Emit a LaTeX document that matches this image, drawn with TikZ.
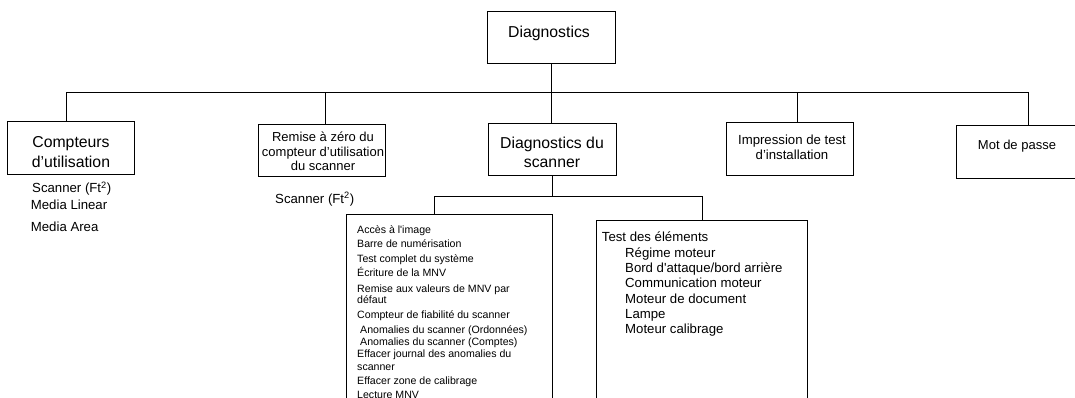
\documentclass[tikz,border=0pt]{standalone}
\usepackage{fontspec}
\newfontfamily\arial{Liberation Sans}
\tikzset{
  box/.style={draw, inner sep=0pt, outer sep=0pt, line width=1pt},
  conn/.style={line width=1pt},
  big/.style={font=\arial\fontsize{15.8}{19}\selectfont, inner sep=0pt, anchor=base},
  mid/.style={font=\arial\fontsize{13.2}{16}\selectfont, inner sep=0pt, anchor=base},
  midl/.style={mid, anchor=base west},
  small/.style={font=\arial\fontsize{10.6}{13}\selectfont, inner sep=0pt, anchor=base west},
}
\begin{document}
\begin{tikzpicture}[x=1pt,y=-1pt]
\useasboundingbox (0,0) rectangle (1075,398);
% boxes
\node[box, minimum width=128pt, minimum height=51.6pt] (diag)  at (551,37.5) {};
\node[box, minimum width=126.4pt, minimum height=52.5pt] (cpt) at (71,147.8) {};
\node[box, minimum width=127.7pt, minimum height=52.4pt] (rem) at (321.9,150.5) {};
\node[box, minimum width=128pt, minimum height=52pt] (dscan) at (552.3,150) {};
\node[box, minimum width=127pt, minimum height=53pt] (imp) at (789.5,149.2) {};
\node[box, minimum width=121pt, minimum height=52.6pt] (mdp) at (1016.5,152) {};
\node[box, minimum width=206pt, minimum height=216pt] (lbox) at (449,322) {};
\node[box, minimum width=211pt, minimum height=210pt] (rbox) at (701.5,325) {};
% bus coordinates
\coordinate (bus) at (0,92.5);
\coordinate (sbus) at (0,196);
% connectors
\draw[conn] (diag.south) -- (diag.south |- dscan.north);
\draw[conn] ([xshift=-5pt]cpt.north) -- ([xshift=-5pt]cpt.north |- bus) -- ([xshift=11.5pt]mdp.north |- bus) -- ([xshift=11.5pt]mdp.north);
\draw[conn] ([xshift=4pt]rem.north) -- ([xshift=4pt]rem.north |- bus);
\draw[conn] ([xshift=7.5pt]imp.north) -- ([xshift=7.5pt]imp.north |- bus);
\draw[conn] (dscan.south) -- (dscan.south |- sbus);
\draw[conn] ([xshift=-15pt]lbox.north) -- ([xshift=-15pt]lbox.north |- sbus) -- ([xshift=1pt]rbox.north |- sbus) -- ([xshift=1pt]rbox.north);
% box texts
\node[big] (tdiag) at (549,37.8) {Diagnostics};
\node[big] (tcpt1) at (71,147.7) {Compteurs};
\node[big] (tcpt2) at (71,167.7) {d’utilisation};
\node[mid, font=\arial\fontsize{13}{16}\selectfont] (trem1) at (323,141.2) {Remise à zéro du};
\node[mid, font=\arial\fontsize{13}{16}\selectfont] (trem2) at (323,156.2) {compteur d’utilisation};
\node[mid, font=\arial\fontsize{13}{16}\selectfont] (trem3) at (323,170.7) {du scanner};
\node[big] (tds1) at (552,148.7) {Diagnostics du};
\node[big] (tds2) at (552,167.7) {scanner};
\node[mid] (timp1) at (792,144.8) {Impression de test};
\node[mid] (timp2) at (792,159.3) {d’installation};
\node[mid, font=\arial\fontsize{13}{16}\selectfont] (tmdp) at (1017,149.7) {Mot de passe};
% free texts
\node[midl] (sc1) at (32,193) {Scanner (Ft\textsuperscript{2})};
\node[midl] (ml) at (30.7,209.8) {Media Linear};
\node[midl] (ma) at (30.7,231.5) {Media Area};
\node[midl] (sc2) at (275,203.3) {Scanner (Ft\textsuperscript{2})};
% left box list
\node[small] (l1) at (357,233.3) {Accès à l'image};
\node[small] (l2) at (357,247.8) {Barre de numérisation};
\node[small] (l3) at (357,262.6) {Test complet du système};
\node[small] (l4) at (357,276.7) {Écriture de la MNV};
\node[small] (l5) at (357,292.6) {Remise aux valeurs de MNV par};
\node[small] (l6) at (357,303.9) {défaut};
\node[small] (l7) at (357,318.3) {Compteur de fiabilité du scanner};
\node[small] (l8) at (360,333.1) {Anomalies du scanner (Ordonnées)};
\node[small] (l9) at (360,345.4) {Anomalies du scanner (Comptes)};
\node[small] (l10) at (357,357.8) {Effacer journal des anomalies du};
\node[small] (l11) at (357,370.1) {scanner};
\node[small] (l12) at (357,384.2) {Effacer zone de calibrage};
\node[small] (l13) at (357,398.3) {Lecture MNV};
% right box list
\node[midl] (r0) at (601.7,241.5) {Test des éléments};
\node[midl] (r1) at (625,257.1) {Régime moteur};
\node[midl] (r2) at (625,272.1) {Bord d'attaque/bord arrière};
\node[midl] (r3) at (625,287.1) {Communication moteur};
\node[midl] (r4) at (625,303.1) {Moteur de document};
\node[midl] (r5) at (625,318.1) {Lampe};
\node[midl] (r6) at (625,333.1) {Moteur calibrage};
\end{tikzpicture}
\end{document}
